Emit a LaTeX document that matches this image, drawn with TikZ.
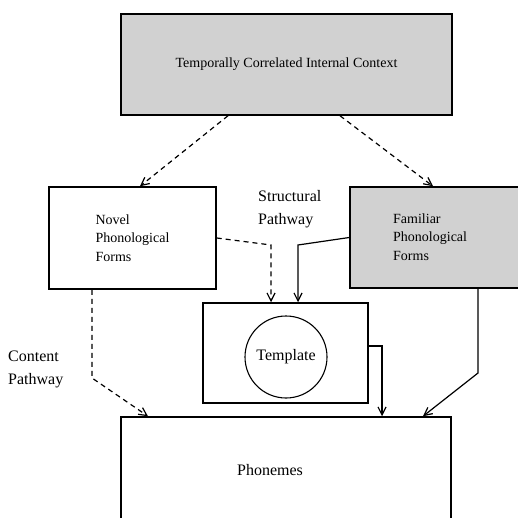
\documentclass[tikz,border=0pt]{standalone}
\usepackage{fontspec}
\setmainfont{Liberation Serif}
\usetikzlibrary{arrows.meta,calc}
\begin{document}
\begin{tikzpicture}[x=1pt,y=-1pt,
  box/.style={draw,line width=1.5pt,inner sep=0pt},
  shaded/.style={box,fill=black!18},
  link/.style={line width=1.2pt,-{Straight Barb[length=8pt,width=8pt]}},
  dlink/.style={link,dash pattern=on 5pt off 4pt},
  boxtext/.style={font=\fontsize{14}{18.5}\selectfont,align=left,inner sep=0pt},
  bigtext/.style={font=\fontsize{16}{23}\selectfont,align=left,inner sep=0pt}]
\useasboundingbox (0,0) rectangle (518,518);
\clip (0,0) rectangle (518,518);

% boxes
\node[shaded,boxtext,minimum width=331pt,minimum height=101pt] (top) at (286.5,64.5)
  {Temporally Correlated Internal Context};
\node[box,boxtext,minimum width=167pt,minimum height=102pt] (novel) at (132.5,238)
  {Novel\\Phonological\\Forms};
\node[shaded,minimum width=172pt,minimum height=101pt] (familiar) at (436,237.5) {};
\node[boxtext,anchor=west] (familiartext) at (393,237) {Familiar\\Phonological\\Forms};
\node[box,minimum width=165pt,minimum height=100pt] (template) at (285.5,353) {};
\node[draw,circle,line width=1.1pt,minimum size=82pt,inner sep=0pt,
  font=\fontsize{16}{19}\selectfont] (templatecircle) at (286,357) {Template};
\node[box,minimum width=330pt,minimum height=126pt] (phonemes) at (286,480) {};
\node[font=\fontsize{16}{19}\selectfont,inner sep=0pt] (phonemestext) at (270,470) {Phonemes};

% pathway labels
\node[bigtext,anchor=north west] (structural) at (258,190) {Structural\\Pathway};
\node[bigtext,anchor=north west] (content) at (8,351) {Content\\Pathway};

% connectors
\draw[dlink] (228,0 |- top.south) -- (140,0 |- novel.north);
\draw[dlink] (340,0 |- top.south) -- (433,0 |- familiar.north);
\draw[dlink] (novel.east) -- (271,245) -- (271,0 |- template.north);
\draw[link] (familiar.west) -- (298,245) -- (298,0 |- template.north);
\draw[link] (template.east |- 0,346) -| (382,0 |- phonemes.north);
\draw[link] (478,0 |- familiar.south) -- (478,373) -- (423,0 |- phonemes.north);
\draw[dlink] (92,0 |- novel.south) -- (92,378) -- (148,0 |- phonemes.north);
\end{tikzpicture}
\end{document}
